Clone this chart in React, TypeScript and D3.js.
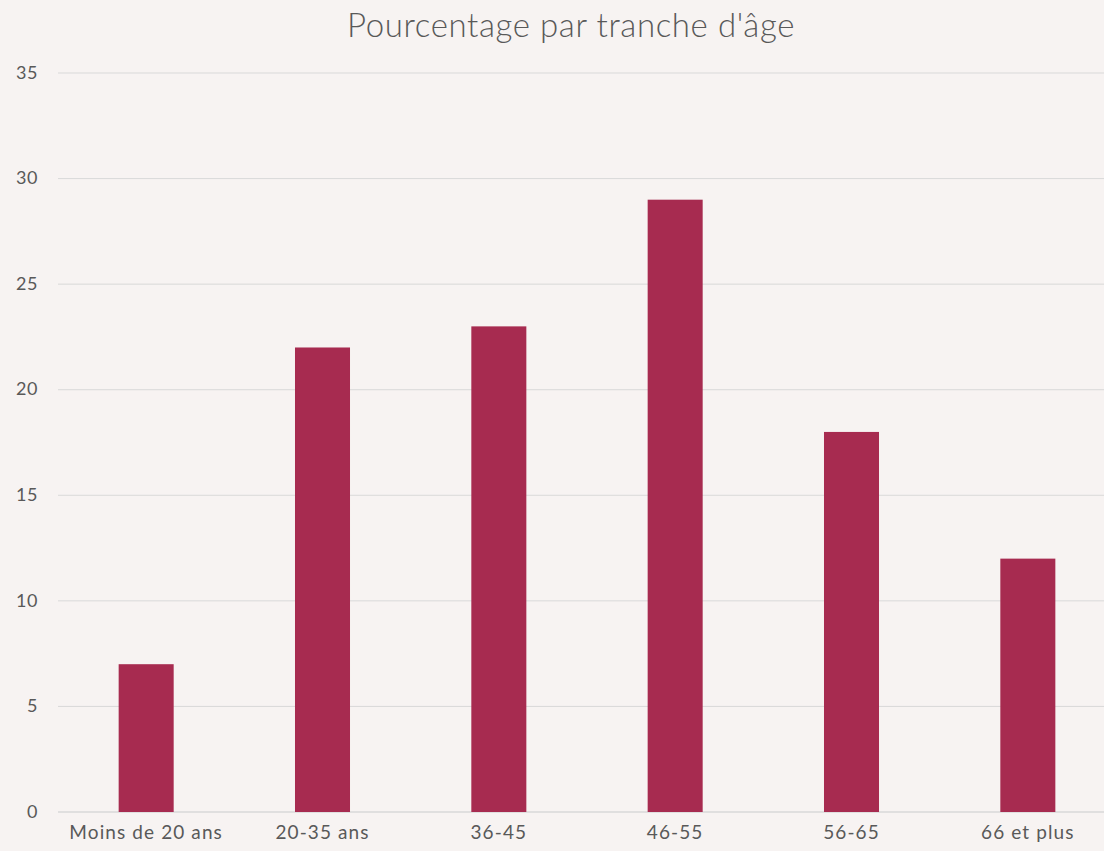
import * as React from 'react';
import { useEffect, useRef } from 'react';
import * as d3 from 'd3';

// Data
const categories = ['Moins de 20 ans', '20-35 ans', '36-45', '46-55', '56-65', '66 et plus'];
const values = [7, 22, 23, 29, 18, 12];
const yTicks = [0, 5, 10, 15, 20, 25, 30, 35];
const title = "Pourcentage par tranche d'âge";

const width = 1104;
const height = 851;

const App: React.FC = () => {
  const svgRef = useRef<SVGSVGElement>(null);

  useEffect(() => {
    const svg = d3.select(svgRef.current);
    svg.selectAll('*').remove();

    const margin = { top: 73, right: -12, bottom: 39, left: 58 };
    const chartWidth = width - margin.left - margin.right;
    const chartHeight = height - margin.top - margin.bottom;
    const font = 'Lato, "Noto Sans", sans-serif';

    svg.append('rect').attr('width', width).attr('height', height).attr('fill', '#f7f3f2');

    const xScale = d3.scaleBand<string>().domain(categories).range([0, chartWidth]).paddingInner(0.688).paddingOuter(0.344);
    const yScale = d3.scaleLinear().domain([0, 35]).range([chartHeight, 0]);

    const g = svg.append('g').attr('transform', `translate(${margin.left},${margin.top})`);

    // gridlines
    g.append('g')
      .selectAll('line')
      .data(yTicks)
      .enter().append('line')
      .attr('x1', 0)
      .attr('x2', chartWidth)
      .attr('y1', d => yScale(d))
      .attr('y2', d => yScale(d))
      .attr('stroke', '#d9d9d9')
      .attr('stroke-width', d => (d === 0 ? 1.5 : 1));

    // y labels
    g.append('g')
      .selectAll('text')
      .data(yTicks)
      .enter().append('text')
      .attr('x', -20)
      .attr('y', d => yScale(d))
      .attr('dy', '0.32em')
      .attr('text-anchor', 'end')
      .attr('font-family', font)
      .attr('font-size', 18)
      .attr('letter-spacing', 0.5)
      .attr('fill', '#595959')
      .text(d => d);

    // bars
    g.append('g')
      .selectAll('rect')
      .data(values)
      .enter().append('rect')
      .attr('x', (_, i) => xScale(categories[i]) ?? 0)
      .attr('y', d => yScale(d))
      .attr('width', xScale.bandwidth())
      .attr('height', d => chartHeight - yScale(d))
      .attr('fill', '#a72b50');

    // x labels
    g.append('g')
      .selectAll('text')
      .data(categories)
      .enter().append('text')
      .attr('x', d => (xScale(d) ?? 0) + xScale.bandwidth() / 2)
      .attr('y', chartHeight + 27)
      .attr('text-anchor', 'middle')
      .attr('font-family', font)
      .attr('font-size', 19)
      .attr('letter-spacing', 1.1)
      .attr('fill', '#595959')
      .text(d => d);

    // title
    svg.append('text')
      .attr('x', 571)
      .attr('y', 37)
      .attr('text-anchor', 'middle')
      .attr('font-family', font)
      .attr('font-size', 33)
      .attr('font-weight', 300)
      .attr('letter-spacing', 0.6)
      .attr('fill', '#595959')
      .text(title);
  }, []);

  return (
    <svg ref={svgRef} width={width} height={height} style={{ position: 'absolute', left: 0, top: 0 }}></svg>
  );
};

export default App;
